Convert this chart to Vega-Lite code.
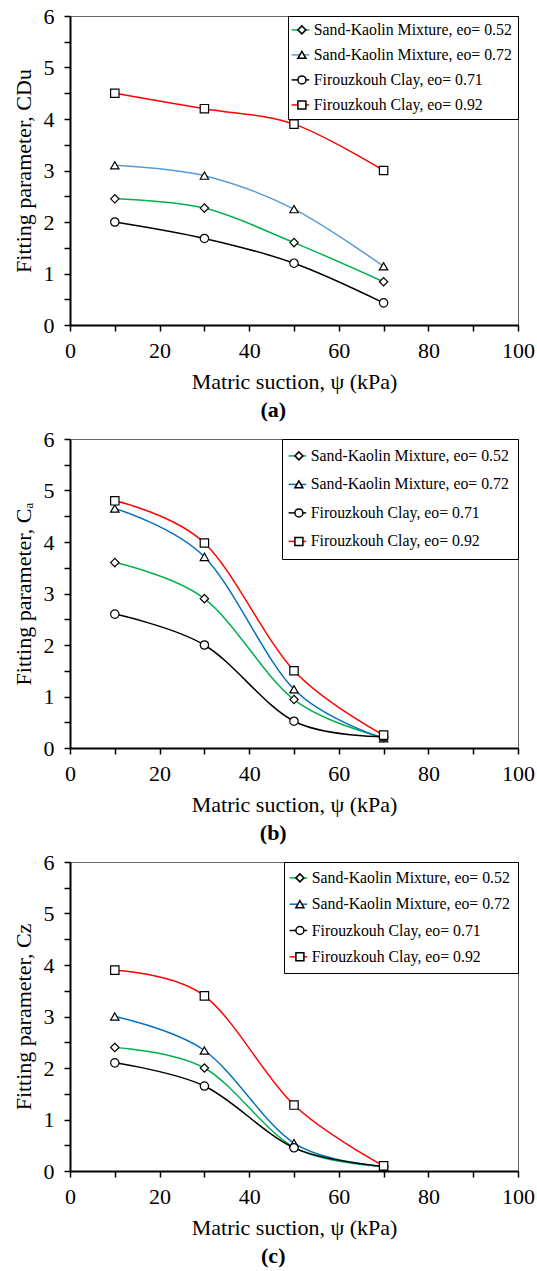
{
  "$schema": "https://vega.github.io/schema/vega-lite/v6.json",
  "padding": {"left": 11, "top": 4, "right": 0, "bottom": 2},
  "background": "white",
  "datasets": {
    "a": [
      {"x": 10, "y": 2.45, "series": "Sand-Kaolin Mixture, eo= 0.52"},
      {"x": 30, "y": 2.27, "series": "Sand-Kaolin Mixture, eo= 0.52"},
      {"x": 50, "y": 1.6, "series": "Sand-Kaolin Mixture, eo= 0.52"},
      {"x": 70, "y": 0.84, "series": "Sand-Kaolin Mixture, eo= 0.52"},
      {"x": 10, "y": 3.1, "series": "Sand-Kaolin Mixture, eo= 0.72"},
      {"x": 30, "y": 2.9, "series": "Sand-Kaolin Mixture, eo= 0.72"},
      {"x": 50, "y": 2.25, "series": "Sand-Kaolin Mixture, eo= 0.72"},
      {"x": 70, "y": 1.14, "series": "Sand-Kaolin Mixture, eo= 0.72"},
      {"x": 10, "y": 2.0, "series": "Firouzkouh Clay, eo= 0.71"},
      {"x": 30, "y": 1.68, "series": "Firouzkouh Clay, eo= 0.71"},
      {"x": 50, "y": 1.2, "series": "Firouzkouh Clay, eo= 0.71"},
      {"x": 70, "y": 0.43, "series": "Firouzkouh Clay, eo= 0.71"},
      {"x": 10, "y": 4.5, "series": "Firouzkouh Clay, eo= 0.92"},
      {"x": 30, "y": 4.2, "series": "Firouzkouh Clay, eo= 0.92"},
      {"x": 50, "y": 3.9, "series": "Firouzkouh Clay, eo= 0.92"},
      {"x": 70, "y": 3.0, "series": "Firouzkouh Clay, eo= 0.92"}
    ],
    "b": [
      {"x": 10, "y": 3.6, "series": "Sand-Kaolin Mixture, eo= 0.52"},
      {"x": 30, "y": 2.9, "series": "Sand-Kaolin Mixture, eo= 0.52"},
      {"x": 50, "y": 0.94, "series": "Sand-Kaolin Mixture, eo= 0.52"},
      {"x": 70, "y": 0.2, "series": "Sand-Kaolin Mixture, eo= 0.52"},
      {"x": 10, "y": 4.65, "series": "Sand-Kaolin Mixture, eo= 0.72"},
      {"x": 30, "y": 3.71, "series": "Sand-Kaolin Mixture, eo= 0.72"},
      {"x": 50, "y": 1.14, "series": "Sand-Kaolin Mixture, eo= 0.72"},
      {"x": 70, "y": 0.19, "series": "Sand-Kaolin Mixture, eo= 0.72"},
      {"x": 10, "y": 2.6, "series": "Firouzkouh Clay, eo= 0.71"},
      {"x": 30, "y": 2.0, "series": "Firouzkouh Clay, eo= 0.71"},
      {"x": 50, "y": 0.52, "series": "Firouzkouh Clay, eo= 0.71"},
      {"x": 70, "y": 0.22, "series": "Firouzkouh Clay, eo= 0.71"},
      {"x": 10, "y": 4.8, "series": "Firouzkouh Clay, eo= 0.92"},
      {"x": 30, "y": 3.98, "series": "Firouzkouh Clay, eo= 0.92"},
      {"x": 50, "y": 1.5, "series": "Firouzkouh Clay, eo= 0.92"},
      {"x": 70, "y": 0.25, "series": "Firouzkouh Clay, eo= 0.92"}
    ],
    "c": [
      {"x": 10, "y": 2.4, "series": "Sand-Kaolin Mixture, eo= 0.52"},
      {"x": 30, "y": 2.0, "series": "Sand-Kaolin Mixture, eo= 0.52"},
      {"x": 50, "y": 0.46, "series": "Sand-Kaolin Mixture, eo= 0.52"},
      {"x": 70, "y": 0.09, "series": "Sand-Kaolin Mixture, eo= 0.52"},
      {"x": 10, "y": 3.0, "series": "Sand-Kaolin Mixture, eo= 0.72"},
      {"x": 30, "y": 2.34, "series": "Sand-Kaolin Mixture, eo= 0.72"},
      {"x": 50, "y": 0.54, "series": "Sand-Kaolin Mixture, eo= 0.72"},
      {"x": 70, "y": 0.09, "series": "Sand-Kaolin Mixture, eo= 0.72"},
      {"x": 10, "y": 2.1, "series": "Firouzkouh Clay, eo= 0.71"},
      {"x": 30, "y": 1.65, "series": "Firouzkouh Clay, eo= 0.71"},
      {"x": 50, "y": 0.45, "series": "Firouzkouh Clay, eo= 0.71"},
      {"x": 70, "y": 0.09, "series": "Firouzkouh Clay, eo= 0.71"},
      {"x": 10, "y": 3.9, "series": "Firouzkouh Clay, eo= 0.92"},
      {"x": 30, "y": 3.4, "series": "Firouzkouh Clay, eo= 0.92"},
      {"x": 50, "y": 1.28, "series": "Firouzkouh Clay, eo= 0.92"},
      {"x": 70, "y": 0.1, "series": "Firouzkouh Clay, eo= 0.92"}
    ]
  },
  "spacing": 5,
  "resolve": {"scale": {"color": "independent", "shape": "independent"}, "legend": {"color": "independent", "shape": "independent"}},
  "vconcat": [
    {
      "width": 448, "height": 309,
      "data": {"name": "a"},
      "title": {"text": "(a)", "orient": "bottom", "anchor": "middle", "frame": "bounds", "fontWeight": "bold", "font": "Liberation Serif", "fontSize": 22, "color": "black", "offset": 8},
      "encoding": {
        "x": {"field": "x", "type": "quantitative", "scale": {"domain": [0, 100]},
          "axis": {"values": [0,10,20,30,40,50,60,70,80,90,100], "labelExpr": "datum.value % 20 === 0 ? '' + datum.value : ''", "title": "Matric suction, ψ (kPa)", "labelPadding": 9, "titlePadding": 10}},
        "y": {"field": "y", "type": "quantitative", "scale": {"domain": [0, 6]},
          "axis": {"values": [0,0.5,1,1.5,2,2.5,3,3.5,4,4.5,5,5.5,6], "labelExpr": "datum.value % 1 === 0 ? '' + datum.value : ''", "title": "Fitting parameter, CDu", "labelPadding": 10, "titlePadding": 8}}
      },
      "layer": [
        {
          "mark": {"type": "line", "interpolate": "cardinal", "strokeWidth": 1.5},
          "encoding": {
            "color": {"field": "series", "type": "nominal",
              "scale": {"domain": ["Sand-Kaolin Mixture, eo= 0.52", "Sand-Kaolin Mixture, eo= 0.72", "Firouzkouh Clay, eo= 0.71", "Firouzkouh Clay, eo= 0.92"], "range": ["#00B050", "#5B9BD5", "#000000", "#FF0000"]},
              "legend": {"title": null, "orient": "none", "legendX": 216.5, "legendY": 0, "zindex": 1, "symbolType": "M-2.2,0H2.2", "symbolStrokeWidth": 1.5, "symbolSize": 64, "labelExpr": "''", "rowPadding": 8, "padding": 6, "labelOffset": 4}}
          }
        },
        {
          "mark": {"type": "point", "filled": true, "fill": "white", "stroke": "black", "strokeWidth": 1.2, "size": 70, "opacity": 1},
          "encoding": {
            "shape": {"field": "series", "type": "nominal",
              "scale": {"domain": ["Sand-Kaolin Mixture, eo= 0.52", "Sand-Kaolin Mixture, eo= 0.72", "Firouzkouh Clay, eo= 0.71", "Firouzkouh Clay, eo= 0.92"], "range": ["diamond", "triangle-up", "circle", "square"]},
              "legend": {"title": null, "orient": "top-right", "offset": 0, "zindex": 3, "symbolSize": 64, "rowPadding": 8, "padding": 6, "labelOffset": 4, "strokeColor": "black",
                "encode": {"legend": {"update": {"strokeWidth": {"value": 2.5}}}, "symbols": {"update": {"fill": {"value": "white"}, "stroke": {"value": "black"}, "strokeWidth": {"value": 1.2}, "opacity": {"value": 1}}}}}}
          }
        }
      ]
    },
    {
      "width": 448, "height": 309,
      "data": {"name": "b"},
      "title": {"text": "(b)", "orient": "bottom", "anchor": "middle", "frame": "bounds", "fontWeight": "bold", "font": "Liberation Serif", "fontSize": 22, "color": "black", "offset": 8},
      "encoding": {
        "x": {"field": "x", "type": "quantitative", "scale": {"domain": [0, 100]},
          "axis": {"values": [0,10,20,30,40,50,60,70,80,90,100], "labelExpr": "datum.value % 20 === 0 ? '' + datum.value : ''", "title": "Matric suction, ψ (kPa)", "labelPadding": 9, "titlePadding": 10}},
        "y": {"field": "y", "type": "quantitative", "scale": {"domain": [0, 6]},
          "axis": {"values": [0,0.5,1,1.5,2,2.5,3,3.5,4,4.5,5,5.5,6], "labelExpr": "datum.value % 1 === 0 ? '' + datum.value : ''", "title": "Fitting parameter, Cₐ", "labelPadding": 10, "titlePadding": 8}}
      },
      "layer": [
        {
          "mark": {"type": "line", "interpolate": "cardinal", "strokeWidth": 1.5},
          "encoding": {
            "color": {"field": "series", "type": "nominal",
              "scale": {"domain": ["Sand-Kaolin Mixture, eo= 0.52", "Sand-Kaolin Mixture, eo= 0.72", "Firouzkouh Clay, eo= 0.71", "Firouzkouh Clay, eo= 0.92"], "range": ["#00B050", "#0070C0", "#000000", "#FF0000"]},
              "legend": {"title": null, "orient": "none", "legendX": 210.5, "legendY": 0, "zindex": 1, "symbolType": "M-2.2,0H2.2", "symbolStrokeWidth": 1.5, "symbolSize": 64, "labelExpr": "''", "rowPadding": 11.5, "padding": 9, "labelOffset": 4}}
          }
        },
        {
          "mark": {"type": "point", "filled": true, "fill": "white", "stroke": "black", "strokeWidth": 1.2, "size": 70, "opacity": 1},
          "encoding": {
            "shape": {"field": "series", "type": "nominal",
              "scale": {"domain": ["Sand-Kaolin Mixture, eo= 0.52", "Sand-Kaolin Mixture, eo= 0.72", "Firouzkouh Clay, eo= 0.71", "Firouzkouh Clay, eo= 0.92"], "range": ["diamond", "triangle-up", "circle", "square"]},
              "legend": {"title": null, "orient": "top-right", "offset": 0, "zindex": 3, "symbolSize": 64, "rowPadding": 11.5, "padding": 9, "labelOffset": 4, "strokeColor": "black",
                "encode": {"legend": {"update": {"strokeWidth": {"value": 2.5}}}, "symbols": {"update": {"fill": {"value": "white"}, "stroke": {"value": "black"}, "strokeWidth": {"value": 1.2}, "opacity": {"value": 1}}}}}}
          }
        }
      ]
    },
    {
      "width": 448, "height": 309,
      "data": {"name": "c"},
      "title": {"text": "(c)", "orient": "bottom", "anchor": "middle", "frame": "bounds", "fontWeight": "bold", "font": "Liberation Serif", "fontSize": 22, "color": "black", "offset": 8},
      "encoding": {
        "x": {"field": "x", "type": "quantitative", "scale": {"domain": [0, 100]},
          "axis": {"values": [0,10,20,30,40,50,60,70,80,90,100], "labelExpr": "datum.value % 20 === 0 ? '' + datum.value : ''", "title": "Matric suction, ψ (kPa)", "labelPadding": 9, "titlePadding": 10}},
        "y": {"field": "y", "type": "quantitative", "scale": {"domain": [0, 6]},
          "axis": {"values": [0,0.5,1,1.5,2,2.5,3,3.5,4,4.5,5,5.5,6], "labelExpr": "datum.value % 1 === 0 ? '' + datum.value : ''", "title": "Fitting parameter, Cz", "labelPadding": 10, "titlePadding": 8}}
      },
      "layer": [
        {
          "mark": {"type": "line", "interpolate": "cardinal", "strokeWidth": 1.5},
          "encoding": {
            "color": {"field": "series", "type": "nominal",
              "scale": {"domain": ["Sand-Kaolin Mixture, eo= 0.52", "Sand-Kaolin Mixture, eo= 0.72", "Firouzkouh Clay, eo= 0.71", "Firouzkouh Clay, eo= 0.92"], "range": ["#00B050", "#0070C0", "#000000", "#FF0000"]},
              "legend": {"title": null, "orient": "none", "legendX": 212.5, "legendY": 0, "zindex": 1, "symbolType": "M-2.2,0H2.2", "symbolStrokeWidth": 1.5, "symbolSize": 64, "labelExpr": "''", "rowPadding": 9.3, "padding": 8, "labelOffset": 4}}
          }
        },
        {
          "mark": {"type": "point", "filled": true, "fill": "white", "stroke": "black", "strokeWidth": 1.2, "size": 70, "opacity": 1},
          "encoding": {
            "shape": {"field": "series", "type": "nominal",
              "scale": {"domain": ["Sand-Kaolin Mixture, eo= 0.52", "Sand-Kaolin Mixture, eo= 0.72", "Firouzkouh Clay, eo= 0.71", "Firouzkouh Clay, eo= 0.92"], "range": ["diamond", "triangle-up", "circle", "square"]},
              "legend": {"title": null, "orient": "top-right", "offset": 0, "zindex": 3, "symbolSize": 64, "rowPadding": 9.3, "padding": 8, "labelOffset": 4, "strokeColor": "black",
                "encode": {"legend": {"update": {"strokeWidth": {"value": 2.5}}}, "symbols": {"update": {"fill": {"value": "white"}, "stroke": {"value": "black"}, "strokeWidth": {"value": 1.2}, "opacity": {"value": 1}}}}}}
          }
        }
      ]
    }
  ],
  "config": {
    "font": "Liberation Serif",
    "view": {"stroke": "#666666", "strokeWidth": 1},
    "axis": {"domainColor": "black", "domainWidth": 2, "tickColor": "black", "tickWidth": 1.5, "tickSize": 6, "grid": false,
      "labelFont": "Liberation Serif", "labelFontSize": 22, "labelColor": "black", "labelOverlap": false, "labelFlush": false,
      "titleFont": "Liberation Serif", "titleFontSize": 22, "titleFontWeight": "normal", "titleColor": "black"},
    "legend": {"labelFont": "Liberation Serif", "labelFontSize": 15.8, "labelColor": "black", "labelLimit": 0}
  }
}
